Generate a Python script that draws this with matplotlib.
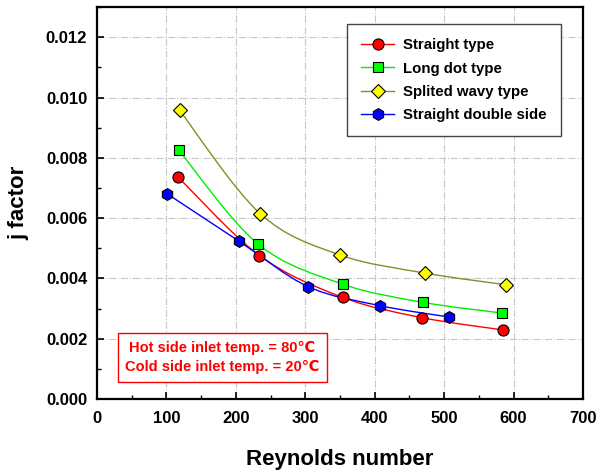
import numpy as np
import matplotlib.pyplot as plt
from matplotlib.path import Path
from matplotlib.patches import PathPatch
from matplotlib.ticker import MultipleLocator

plt.rcParams['font.family'] = ['Liberation Sans', 'DejaVu Sans']
plt.rcParams['font.weight'] = 'bold'

re_straight = [117, 234, 354, 468, 585]
j_straight = [0.00736, 0.00476, 0.00337, 0.00270, 0.00229]

re_longdot = [118, 232, 354, 469, 584]
j_longdot = [0.00825, 0.00514, 0.00381, 0.00321, 0.00285]

re_wavy = [119, 235, 350, 472, 589]
j_wavy = [0.00958, 0.00615, 0.00478, 0.00418, 0.00379]

re_double = [101, 205, 304, 407, 507]
j_double = [0.00681, 0.00523, 0.00373, 0.00310, 0.00272]

series = [
    ("Straight type", re_straight, j_straight, "#ff0000", "#ff0000", "o", 8),
    ("Long dot type", re_longdot, j_longdot, "#00ee00", "#00ff00", "s", 7.5),
    ("Splited wavy type", re_wavy, j_wavy, "#8b8b2a", "#ffff00", "D", 7.5),
    ("Straight double side", re_double, j_double, "#0000ff", "#0000ff", "h", 8.5),
]


def smooth_path(x, y):
    # Catmull-Rom through the points, drawn as cubic Bezier pieces
    p = np.column_stack([x, y]).astype(float)
    verts = [p[0]]
    codes = [Path.MOVETO]
    n = len(p)
    for i in range(n - 1):
        p0 = p[i - 1] if i > 0 else p[i]
        p3 = p[i + 2] if i + 2 < n else p[i + 1]
        c1 = p[i] + (p[i + 1] - p0) / 6
        c2 = p[i + 1] - (p3 - p[i]) / 6
        verts += [c1, c2, p[i + 1]]
        codes += [Path.CURVE4] * 3
    return Path(verts, codes)


fig = plt.figure(figsize=(6.06, 4.72), dpi=100)
ax = fig.add_axes([0.160, 0.1547, 0.802, 0.830])

for label, x, y, lc, fc, m, ms in series:
    ax.add_patch(PathPatch(smooth_path(x, y), facecolor="none", edgecolor=lc, lw=1.0, zorder=2))
    ax.plot([], [], color=lc, lw=1.0, marker=m, ms=ms, mfc=fc, mec="black", mew=0.8, label=label)
    ax.plot(x, y, ls="none", marker=m, ms=ms, mfc=fc, mec="black", mew=0.8, zorder=3)

ax.set_xlim(0, 700)
ax.set_ylim(0, 0.013)
ax.xaxis.set_major_locator(MultipleLocator(100))
ax.xaxis.set_minor_locator(MultipleLocator(50))
ax.yaxis.set_major_locator(MultipleLocator(0.002))
ax.yaxis.set_minor_locator(MultipleLocator(0.001))
ax.yaxis.set_major_formatter(plt.FormatStrFormatter("%.3f"))
ax.tick_params(which="both", direction="in", top=False, right=False, labelsize=12)
ax.tick_params(axis="x", which="major", pad=9)
ax.tick_params(axis="y", which="major", pad=7)
ax.tick_params(which="major", length=5, width=1.2)
ax.tick_params(which="minor", length=3, width=1.0)
for lab in ax.get_xticklabels() + ax.get_yticklabels():
    lab.set_fontweight("bold")
for s in ax.spines.values():
    s.set_linewidth(1.6)

ax.grid(True, which="major", color="#c8c8c8", ls="-.", lw=0.8)
ax.set_axisbelow(True)

ax.set_xlabel("Reynolds number", fontsize=16, fontweight="bold", labelpad=16)
ax.set_ylabel("j factor", fontsize=16, fontweight="bold", labelpad=12)

leg = ax.legend(loc="upper right", bbox_to_anchor=(0.955, 0.957), borderaxespad=0,
                fontsize=10.8, fancybox=False, edgecolor="#444444", framealpha=1,
                handlelength=2.2, handletextpad=0.6, borderpad=0.95, labelspacing=0.62)
leg.get_frame().set_linewidth(1.0)
for t in leg.get_texts():
    t.set_fontweight("bold")

ax.text(0.258, 0.106, "Hot side inlet temp. = 80\u2103\nCold side inlet temp. = 20\u2103",
        transform=ax.transAxes, ha="center", va="center", color="#ff0000",
        fontsize=10.5, fontweight="bold", linespacing=1.5,
        bbox=dict(boxstyle="square,pad=0.5", fc="white", ec="#ff0000", lw=1.0))

fig.savefig("out.png", dpi=100)
